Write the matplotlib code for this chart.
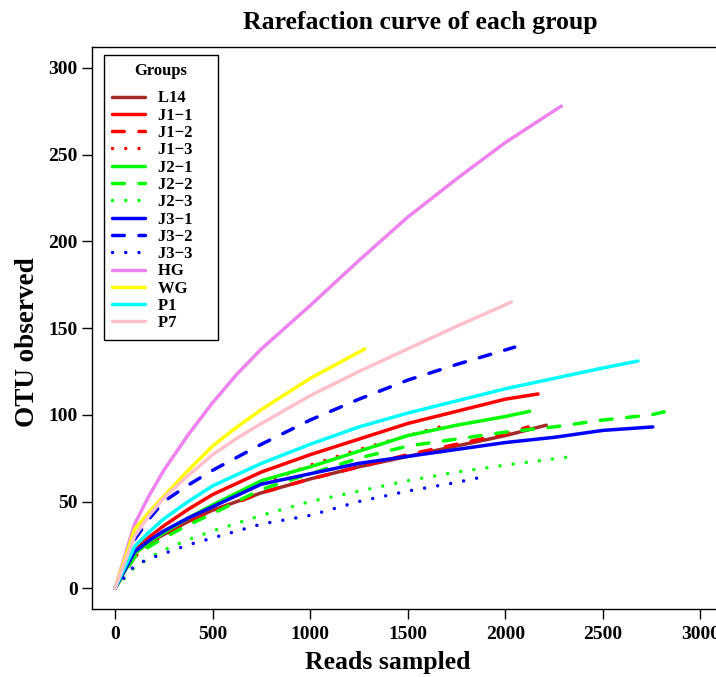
#!/usr/bin/env python

""" Rarefaction curve of each group """

import matplotlib
matplotlib.use('Agg')
import matplotlib.pyplot as plt

plt.rcParams['font.family'] = ['Liberation Serif', 'DejaVu Serif']
plt.rcParams['font.weight'] = 'bold'

M = '\u2212'

groups = ['L14', 'J1' + M + '1', 'J1' + M + '2', 'J1' + M + '3',
          'J2' + M + '1', 'J2' + M + '2', 'J2' + M + '3',
          'J3' + M + '1', 'J3' + M + '2', 'J3' + M + '3',
          'HG', 'WG', 'P1', 'P7']

# reads sampled / OTUs observed
l14_x = [0, 100, 175, 250, 375, 500, 750, 1000, 1250, 1500, 1750, 2000, 2210]
l14_y = [0, 20, 26.5, 31, 38.5, 45, 55, 63, 70, 76, 82, 88, 94]

j11_x = [0, 100, 175, 250, 375, 500, 750, 1000, 1250, 1500, 1750, 2000, 2168]
j11_y = [0, 22, 29.5, 36, 45.5, 54, 67, 77, 86, 95, 102, 109, 112]

j12_x = [0, 100, 175, 250, 375, 500, 750, 1000, 1250, 1500, 1750, 2000, 2117]
j12_y = [0, 18, 24.5, 30, 37.5, 44, 55, 63, 70, 77, 83, 89, 93]

j13_x = [0, 100, 175, 250, 375, 500, 750, 1000, 1250, 1500, 1664]
j13_y = [0, 18, 25, 31, 39.5, 47, 60, 71, 80, 88, 93]

j21_x = [0, 100, 175, 250, 375, 500, 750, 1000, 1250, 1500, 1750, 2000, 2125]
j21_y = [0, 20, 26.5, 32, 40.5, 48, 62, 70, 79, 88, 94, 99, 102]

j22_x = [0, 100, 175, 250, 375, 500, 750, 1000, 1250, 1500, 1750, 2000,
         2250, 2500, 2750, 2825]
j22_y = [0, 18, 24, 29, 36.5, 43, 57, 66, 75, 82, 86, 90, 93, 97, 100, 102]

j23_x = [0, 100, 175, 250, 375, 500, 750, 1000, 1250, 1500, 1750, 2000, 2347]
j23_y = [0, 12, 17.5, 22, 28, 33, 42, 50, 56, 62, 67, 71, 76]

j31_x = [0, 100, 175, 250, 375, 500, 750, 1000, 1250, 1500, 1750, 2000,
         2250, 2500, 2756]
j31_y = [0, 21, 27.5, 33, 40.5, 47, 60, 66, 72, 76, 80, 84, 87, 91, 93]

j32_x = [0, 100, 175, 250, 375, 500, 750, 1000, 1250, 1500, 1750, 2048]
j32_y = [0, 28, 40, 50, 59.5, 68, 83, 97, 109, 120, 129, 139]

j33_x = [0, 100, 175, 250, 375, 500, 750, 1000, 1250, 1500, 1750, 1877]
j33_y = [0, 13, 17, 20, 25, 29, 37, 42, 50, 56, 61, 64]

hg_x = [0, 100, 175, 250, 375, 500, 625, 750, 1000, 1250, 1500, 1750, 2000, 2287]
hg_y = [0, 37, 53.5, 68, 88.5, 107, 123.5, 138, 163, 189, 214, 236, 257, 278]

wg_x = [0, 100, 175, 250, 375, 500, 625, 750, 1000, 1280]
wg_y = [0, 34, 44, 53, 68, 82, 93, 103, 121, 138]

p1_x = [0, 100, 175, 250, 375, 500, 750, 1000, 1250, 1500, 1750, 2000,
        2250, 2500, 2680]
p1_y = [0, 24, 32.5, 40, 50, 59, 72, 83, 93, 101, 108, 115, 121, 127, 131]

p7_x = [0, 100, 175, 250, 375, 500, 625, 750, 1000, 1250, 1500, 1750, 2031]
p7_y = [0, 30, 42, 52, 65, 77, 86.5, 95, 111, 125, 138, 151, 165]

series_x = [l14_x, j11_x, j12_x, j13_x, j21_x, j22_x, j23_x,
            j31_x, j32_x, j33_x, hg_x, wg_x, p1_x, p7_x]
series_y = [l14_y, j11_y, j12_y, j13_y, j21_y, j22_y, j23_y,
            j31_y, j32_y, j33_y, hg_y, wg_y, p1_y, p7_y]

colors = ['#A52A2A', '#FF0000', '#FF0000', '#FF0000',
          '#00FF00', '#00FF00', '#00FF00',
          '#0000FF', '#0000FF', '#0000FF',
          '#EE82EE', '#FFFF00', '#00FFFF', '#FFC0CB']

solid = '-'
dashed = (0, (3.4, 4.2))
dotted = (0, (0.01, 3.8))
styles = [solid, solid, dashed, dotted, solid, dashed, dotted,
          solid, dashed, dotted, solid, solid, solid, solid]

#----- Create the plot ---------------------------------

fig = plt.figure(figsize=(7.16, 6.77), dpi=100)
ax = fig.add_axes([0.128, 0.1004, 0.883, 0.830])

for xs, ys, c, ls, lab in zip(series_x, series_y, colors, styles, groups):
    ax.plot(xs, ys, color=c, linestyle=ls, linewidth=2.5, label=lab,
            solid_capstyle='round', dash_capstyle='round',
            solid_joinstyle='round')

ax.set_xlim(-120, 3120)
ax.set_ylim(-12, 312)
ax.set_xticks(range(0, 3001, 500))
ax.set_yticks(range(0, 301, 50))
ax.tick_params(direction='out', length=7, width=1, labelsize=14)
ax.tick_params(axis='x', pad=5)
ax.tick_params(axis='y', pad=3)
for sp in ax.spines.values():
    sp.set_linewidth(1)

fig.text(387.5 / 716, 1 - 663 / 677, 'Reads sampled',
         ha='center', va='center', fontsize=18.5, fontweight='bold')
fig.text(28 / 716, 1 - 342 / 677, 'OTU observed', rotation=90,
         ha='center', va='center', fontsize=19.5, fontweight='bold')
fig.text(420 / 716, 1 - 22 / 677, 'Rarefaction curve of each group',
         ha='center', va='center', fontsize=18.5, fontweight='bold')

labels = [g + '    ' for g in groups]
handles = ax.get_lines()
leg = ax.legend(handles, labels, title='Groups', loc='upper left',
                bbox_to_anchor=(0.0196, 0.986),
                borderaxespad=0, fancybox=False, edgecolor='black',
                fontsize=12, title_fontsize=12, handlelength=1.95,
                handletextpad=0.8, borderpad=0.5,
                labelspacing=0.078, framealpha=1)
leg.get_frame().set_linewidth(1)
leg.get_title().set_fontweight('bold')
leg._legend_box.sep = 8

fig.savefig('out.png', dpi=100)
